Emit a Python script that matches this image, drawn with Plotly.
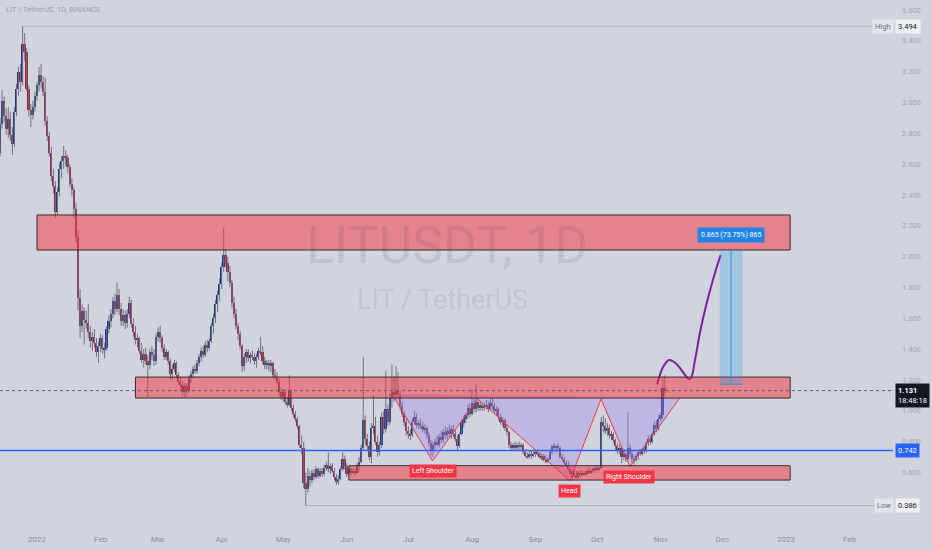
import pandas as pd
import plotly.graph_objects as go

# ---------------- data: LIT/USDT daily candles ----------------
FIRST_DAY = "2021-12-12"

open_prices = [
    2.74, 2.71, 2.67, 2.86, 3.01, 2.91, 2.83, 2.89, 2.79, 2.73, 2.94, 3.09, 3.20, 3.13, 3.38, 3.33, 3.09, 2.95, 2.92, 2.97,
    3.04, 3.11, 3.18, 3.13, 3.07, 2.88, 2.78, 2.67, 2.52, 2.46, 2.29, 2.42, 2.57, 2.62, 2.65, 2.64, 2.58, 2.47, 2.43, 2.31, 2.13, 1.73, 1.55, 1.65, 1.59, 1.57, 1.51, 1.45, 1.48, 1.44, 1.38,
    1.42, 1.47, 1.40, 1.41, 1.53, 1.58, 1.63, 1.71, 1.66, 1.75, 1.66, 1.58, 1.62, 1.57, 1.63, 1.70, 1.56, 1.51, 1.46, 1.47, 1.39, 1.33, 1.37, 1.32, 1.30, 1.38, 1.36, 1.32,
    1.48, 1.51, 1.47, 1.41, 1.35, 1.38, 1.32, 1.24, 1.27, 1.31, 1.23, 1.19, 1.17, 1.12, 1.16, 1.13, 1.21, 1.24, 1.27, 1.26, 1.31, 1.35, 1.39, 1.36, 1.43, 1.41, 1.45, 1.55, 1.60, 1.69, 1.75,
    1.82, 1.93, 2.01, 1.96, 1.90, 1.83, 1.70, 1.63, 1.55, 1.50, 1.42, 1.29, 1.35, 1.38, 1.34, 1.36, 1.35, 1.32, 1.35, 1.39, 1.38, 1.32, 1.30, 1.31, 1.29, 1.31, 1.23, 1.22, 1.19, 1.12,
    1.09, 1.12, 1.06, 1.04, 1.13, 1.02, 0.98, 0.95, 0.90, 0.78, 0.76, 0.53, 0.49, 0.58, 0.55, 0.60, 0.57, 0.62, 0.58, 0.61, 0.59, 0.63, 0.65, 0.62, 0.64, 0.61, 0.57, 0.54, 0.56, 0.62, 0.69,
    0.64, 0.59, 0.62, 0.60, 0.61, 0.60, 0.64, 0.67, 0.76, 0.94, 0.82, 0.77, 0.70, 0.89, 0.90, 0.80, 0.73, 0.78, 0.96, 0.88, 1.01, 0.93, 1.08, 1.12, 1.10, 1.13, 1.10, 1.03, 0.98, 0.93,
    0.87, 0.85, 0.84, 0.93, 0.96, 0.91, 0.92, 0.90, 0.88, 0.89, 0.84, 0.79, 0.74, 0.78, 0.80, 0.78, 0.83, 0.81, 0.86, 0.84, 0.87, 0.85, 0.88, 0.85, 0.82, 0.77, 0.85, 0.92, 0.95, 0.97, 1.02,
    0.98, 1.05, 1.01, 1.06, 1.02, 1.04, 1.02, 1.03, 1.04, 1.01, 1.05, 1.03, 1.00, 1.01, 0.96, 0.93, 0.94, 0.89, 0.86, 0.78, 0.76, 0.78, 0.76, 0.78, 0.77, 0.78, 0.73, 0.71, 0.70, 0.72, 0.71,
    0.72, 0.73, 0.72, 0.70, 0.71, 0.68, 0.67, 0.69, 0.73, 0.77, 0.76, 0.77, 0.76, 0.70, 0.69, 0.66, 0.65, 0.62, 0.59, 0.61, 0.58, 0.57, 0.60, 0.59, 0.60, 0.59, 0.61, 0.60, 0.61, 0.62,
    0.63, 0.62, 0.63, 0.93, 0.90, 0.87, 0.89, 0.84, 0.85, 0.81, 0.77, 0.74, 0.76, 0.70, 0.72, 0.69, 0.76, 0.72, 0.69, 0.68, 0.71, 0.73, 0.72, 0.75, 0.74, 0.79, 0.82, 0.80, 0.85, 0.91, 0.88,
    0.95, 0.97, 1.15,
]
high_prices = [
    2.84, 2.80, 2.90, 3.08, 3.04, 2.96, 2.97, 2.94, 2.84, 2.97, 3.12, 3.23, 3.25, 3.494, 3.45, 3.35, 3.11, 2.99, 3.01, 3.07,
    3.13, 3.23, 3.25, 3.17, 3.16, 2.91, 2.81, 2.71, 2.57, 2.49, 2.45, 2.61, 2.65, 2.72, 2.69, 2.66, 2.60, 2.51, 2.45, 2.35, 2.17, 1.79, 1.69, 1.67, 1.65, 1.69, 1.55, 1.51, 1.53, 1.47, 1.45,
    1.50, 1.49, 1.44, 1.55, 1.62, 1.66, 1.74, 1.76, 1.83, 1.79, 1.70, 1.66, 1.65, 1.66, 1.74, 1.72, 1.60, 1.55, 1.50, 1.48, 1.44, 1.40, 1.41, 1.36, 1.40, 1.42, 1.40, 1.50,
    1.54, 1.55, 1.49, 1.43, 1.40, 1.39, 1.34, 1.30, 1.33, 1.32, 1.25, 1.22, 1.19, 1.18, 1.18, 1.23, 1.26, 1.29, 1.30, 1.33, 1.37, 1.41, 1.42, 1.45, 1.46, 1.47, 1.57, 1.63, 1.72, 1.78, 1.86,
    1.96, 2.19, 2.05, 2.00, 1.94, 1.85, 1.74, 1.66, 1.57, 1.52, 1.43, 1.37, 1.40, 1.40, 1.38, 1.39, 1.37, 1.37, 1.41, 1.48, 1.42, 1.35, 1.33, 1.33, 1.33, 1.32, 1.27, 1.25, 1.21, 1.15,
    1.14, 1.14, 1.09, 1.23, 1.14, 1.04, 1.00, 0.96, 0.91, 0.84, 0.80, 0.60, 0.63, 0.61, 0.62, 0.62, 0.64, 0.63, 0.63, 0.63, 0.65, 0.67, 0.73, 0.66, 0.66, 0.63, 0.59, 0.58, 0.64, 0.73, 0.71,
    0.66, 0.64, 0.63, 0.63, 0.62, 0.66, 0.70, 0.78, 1.35, 0.97, 0.85, 0.80, 0.92, 1.10, 0.96, 0.84, 0.80, 0.99, 1.00, 1.26, 1.04, 1.11, 1.30, 1.22, 1.29, 1.25, 1.13, 1.06, 1.00, 0.95,
    0.90, 0.88, 0.95, 1.00, 0.98, 0.94, 0.95, 0.93, 0.91, 0.90, 0.86, 0.81, 0.80, 0.82, 0.84, 0.85, 0.87, 0.88, 0.90, 0.89, 0.91, 0.90, 0.91, 0.88, 0.84, 0.86, 0.94, 0.97, 0.99, 1.04, 1.05,
    1.14, 1.08, 1.17, 1.08, 1.06, 1.05, 1.05, 1.07, 1.06, 1.08, 1.08, 1.05, 1.03, 1.02, 0.98, 0.96, 0.95, 0.91, 0.87, 0.80, 0.79, 0.80, 0.79, 0.80, 0.79, 0.79, 0.75, 0.73, 0.74, 0.74, 0.74,
    0.74, 0.75, 0.73, 0.72, 0.72, 0.71, 0.70, 0.74, 0.78, 0.79, 0.78, 0.79, 0.77, 0.72, 0.70, 0.68, 0.67, 0.63, 0.62, 0.62, 0.61, 0.61, 0.62, 0.61, 0.61, 0.62, 0.63, 0.62, 0.63, 0.64,
    0.65, 0.64, 0.96, 0.97, 0.95, 0.92, 0.91, 0.87, 0.86, 0.82, 0.79, 0.78, 0.77, 0.74, 0.73, 0.99, 0.78, 0.74, 0.71, 0.72, 0.74, 0.75, 0.76, 0.77, 0.80, 0.84, 0.84, 0.86, 0.93, 0.94, 0.97,
    0.99, 1.21, 1.23,
]
low_prices = [
    2.64, 2.60, 2.65, 2.83, 2.87, 2.79, 2.77, 2.75, 2.66, 2.71, 2.91, 3.04, 3.07, 3.11, 3.27, 3.07, 2.91, 2.84, 2.89, 2.94,
    3.01, 3.07, 3.09, 3.04, 2.85, 2.75, 2.65, 2.49, 2.41, 2.25, 2.27, 2.39, 2.51, 2.57, 2.59, 2.54, 2.45, 2.39, 2.25, 2.09, 1.65, 1.47, 1.51, 1.43, 1.53, 1.47, 1.41, 1.39, 1.41, 1.35, 1.31,
    1.38, 1.37, 1.34, 1.39, 1.50, 1.54, 1.60, 1.62, 1.64, 1.62, 1.55, 1.55, 1.53, 1.54, 1.60, 1.54, 1.48, 1.43, 1.41, 1.37, 1.31, 1.28, 1.30, 1.09, 1.27, 1.33, 1.29, 1.30,
    1.45, 1.44, 1.38, 1.33, 1.33, 1.30, 1.20, 1.20, 1.25, 1.21, 1.17, 1.15, 1.10, 1.09, 1.10, 1.12, 1.18, 1.21, 1.24, 1.24, 1.29, 1.32, 1.34, 1.35, 1.38, 1.39, 1.44, 1.50, 1.57, 1.64, 1.71,
    1.79, 1.90, 1.93, 1.84, 1.80, 1.67, 1.60, 1.53, 1.46, 1.40, 1.25, 1.26, 1.31, 1.32, 1.31, 1.33, 1.30, 1.28, 1.33, 1.36, 1.30, 1.27, 1.27, 1.26, 1.25, 1.21, 1.20, 1.17, 1.10, 1.07,
    1.06, 1.04, 1.02, 1.03, 1.00, 0.96, 0.93, 0.88, 0.76, 0.72, 0.50, 0.386, 0.47, 0.51, 0.53, 0.55, 0.56, 0.56, 0.57, 0.57, 0.58, 0.61, 0.60, 0.59, 0.60, 0.55, 0.52, 0.52, 0.55, 0.61, 0.62,
    0.57, 0.58, 0.58, 0.59, 0.58, 0.59, 0.60, 0.66, 0.74, 0.78, 0.74, 0.68, 0.66, 0.85, 0.78, 0.70, 0.71, 0.76, 0.85, 0.86, 0.90, 0.91, 1.02, 1.06, 1.07, 1.08, 1.00, 0.96, 0.90, 0.84,
    0.82, 0.81, 0.83, 0.91, 0.89, 0.88, 0.88, 0.86, 0.85, 0.82, 0.77, 0.71, 0.70, 0.75, 0.77, 0.76, 0.79, 0.79, 0.82, 0.81, 0.83, 0.82, 0.83, 0.80, 0.74, 0.76, 0.84, 0.89, 0.92, 0.95, 0.96,
    0.97, 0.99, 0.99, 1.00, 1.00, 1.00, 1.00, 1.01, 0.99, 1.00, 1.01, 0.98, 0.97, 0.94, 0.91, 0.90, 0.87, 0.84, 0.76, 0.74, 0.74, 0.74, 0.74, 0.75, 0.75, 0.72, 0.70, 0.69, 0.69, 0.69, 0.70,
    0.70, 0.71, 0.69, 0.68, 0.67, 0.66, 0.66, 0.68, 0.72, 0.74, 0.73, 0.74, 0.69, 0.67, 0.65, 0.64, 0.61, 0.58, 0.55, 0.57, 0.56, 0.56, 0.57, 0.58, 0.58, 0.58, 0.59, 0.59, 0.60, 0.60,
    0.61, 0.61, 0.62, 0.86, 0.85, 0.84, 0.82, 0.81, 0.79, 0.75, 0.72, 0.72, 0.66, 0.68, 0.67, 0.68, 0.70, 0.66, 0.65, 0.67, 0.68, 0.71, 0.71, 0.72, 0.73, 0.77, 0.78, 0.79, 0.84, 0.86, 0.87,
    0.93, 0.95, 1.10,
]
close_prices = [
    2.71, 2.67, 2.86, 3.01, 2.91, 2.83, 2.89, 2.79, 2.73, 2.94, 3.09, 3.20, 3.13, 3.38, 3.33, 3.09, 2.95, 2.92, 2.97, 3.04,
    3.11, 3.18, 3.13, 3.07, 2.88, 2.78, 2.67, 2.52, 2.46, 2.29, 2.42, 2.57, 2.62, 2.65, 2.64, 2.58, 2.47, 2.43, 2.31, 2.13, 1.73, 1.55, 1.65, 1.59, 1.57, 1.51, 1.45, 1.48, 1.44, 1.38, 1.42,
    1.47, 1.40, 1.41, 1.53, 1.58, 1.63, 1.71, 1.66, 1.75, 1.66, 1.58, 1.62, 1.57, 1.63, 1.70, 1.56, 1.51, 1.46, 1.47, 1.39, 1.33, 1.37, 1.32, 1.30, 1.38, 1.36, 1.32, 1.48,
    1.51, 1.47, 1.41, 1.35, 1.38, 1.32, 1.24, 1.27, 1.31, 1.23, 1.19, 1.17, 1.12, 1.16, 1.13, 1.21, 1.24, 1.27, 1.26, 1.31, 1.35, 1.39, 1.36, 1.43, 1.41, 1.45, 1.55, 1.60, 1.69, 1.75, 1.82,
    1.93, 2.01, 1.96, 1.90, 1.83, 1.70, 1.63, 1.55, 1.50, 1.42, 1.29, 1.35, 1.38, 1.34, 1.36, 1.35, 1.32, 1.35, 1.39, 1.38, 1.32, 1.30, 1.31, 1.29, 1.31, 1.23, 1.22, 1.19, 1.12, 1.09,
    1.12, 1.06, 1.04, 1.13, 1.02, 0.98, 0.95, 0.90, 0.78, 0.76, 0.53, 0.49, 0.58, 0.55, 0.60, 0.57, 0.62, 0.58, 0.61, 0.59, 0.63, 0.65, 0.62, 0.64, 0.61, 0.57, 0.54, 0.56, 0.62, 0.69, 0.64,
    0.59, 0.62, 0.60, 0.61, 0.60, 0.64, 0.67, 0.76, 0.94, 0.82, 0.77, 0.70, 0.89, 0.90, 0.80, 0.73, 0.78, 0.96, 0.88, 1.01, 0.93, 1.08, 1.12, 1.10, 1.13, 1.10, 1.03, 0.98, 0.93, 0.87,
    0.85, 0.84, 0.93, 0.96, 0.91, 0.92, 0.90, 0.88, 0.89, 0.84, 0.79, 0.74, 0.78, 0.80, 0.78, 0.83, 0.81, 0.86, 0.84, 0.87, 0.85, 0.88, 0.85, 0.82, 0.77, 0.85, 0.92, 0.95, 0.97, 1.02, 0.98,
    1.05, 1.01, 1.06, 1.02, 1.04, 1.02, 1.03, 1.04, 1.01, 1.05, 1.03, 1.00, 1.01, 0.96, 0.93, 0.94, 0.89, 0.86, 0.78, 0.76, 0.78, 0.76, 0.78, 0.77, 0.78, 0.73, 0.71, 0.70, 0.72, 0.71, 0.72,
    0.73, 0.72, 0.70, 0.71, 0.68, 0.67, 0.69, 0.73, 0.77, 0.76, 0.77, 0.76, 0.70, 0.69, 0.66, 0.65, 0.62, 0.59, 0.61, 0.58, 0.57, 0.60, 0.59, 0.60, 0.59, 0.61, 0.60, 0.61, 0.62, 0.63,
    0.62, 0.63, 0.93, 0.90, 0.87, 0.89, 0.84, 0.85, 0.81, 0.77, 0.74, 0.76, 0.70, 0.72, 0.69, 0.76, 0.72, 0.69, 0.68, 0.71, 0.73, 0.72, 0.75, 0.74, 0.79, 0.82, 0.80, 0.85, 0.91, 0.88, 0.95,
    0.97, 1.15, 1.131,
]

# key levels / drawings (prices and dates)
HIGH_PRICE, HIGH_DATE = 3.494, "2021-12-25"
LOW_PRICE, LOW_DATE = 0.386, "2022-05-12"
LAST_PRICE, LAST_TIME = 1.131, "18:48:18"
BLUE_LEVEL = 0.742

zone_left = ["2022-01-01", "2022-02-18", "2022-06-02"]
zone_right = ["2023-01-03 02:00", "2023-01-03 02:00", "2023-01-03 02:00"]
zone_bottom = [2.043, 1.083, 0.551]
zone_top = [2.270, 1.219, 0.644]

hs_dates = ["2022-06-22 22:00", "2022-07-12 19:00", "2022-08-03 19:00", "2022-09-17 17:00",
            "2022-10-02 22:00", "2022-10-17 00:00", "2022-11-10 10:00"]
hs_prices = [1.110, 0.675, 1.077, 0.547, 1.077, 0.638, 1.085]
hs_label_text = ["Left Shoulder", "Head", "Right Shoulder"]
hs_label_dates = ["2022-07-12 19:00", "2022-09-17 17:00", "2022-10-16 12:00"]
hs_label_prices = [0.610, 0.482, 0.573]

proj_dates = ["2022-10-30 07:00", "2022-11-02 05:00", "2022-11-05 02:00", "2022-11-08 17:00",
              "2022-11-15 05:00", "2022-11-17 17:00", "2022-11-20 02:00", "2022-11-23 10:00",
              "2022-11-27 10:00", "2022-11-30 05:00"]
proj_prices = [1.172, 1.286, 1.330, 1.304, 1.204, 1.330, 1.505, 1.699, 1.894, 2.010]

range_start, range_end, range_mid = "2022-11-29 19:00", "2022-12-10 22:00", "2022-12-05 07:00"
range_low, range_high = 1.173, 2.038
range_text = "0.865 (73.75%) 865"

price_ticks = [0.6, 0.8, 1.0, 1.2, 1.4, 1.6, 1.8, 2.0, 2.2, 2.4, 2.6, 2.8, 3.0, 3.2, 3.4, 3.6]
month_ticks = ["2022-01-01", "2022-02-01", "2022-03-01", "2022-04-01", "2022-05-01", "2022-06-01",
               "2022-07-01", "2022-08-01", "2022-09-01", "2022-10-01", "2022-11-01", "2022-12-01",
               "2023-01-01", "2023-02-01"]
month_labels = ["2022", "Feb", "Mar", "Apr", "May", "Jun", "Jul", "Aug", "Sep", "Oct", "Nov", "Dec",
                "2023", "Feb"]

X_START, X_END = "2021-12-13 23:15", "2023-02-22 05:00"
Y_MIN, Y_MAX = 0.2595, 3.6642

# ---------------- styling ----------------
BG = "#d1d4dc"
UP, DOWN, WICK = "#1f3590", "#9a2444", "#6f727e"
FONT = "Roboto"

n = min(len(open_prices), len(high_prices), len(low_prices), len(close_prices))
dates = pd.date_range(FIRST_DAY, periods=n, freq="D")

wick_x, wick_y = [], []
for d, h, l in zip(dates, high_prices[:n], low_prices[:n]):
    wick_x += [d, d, None]
    wick_y += [l, h, None]

body_base = [min(o, c) for o, c in zip(open_prices[:n], close_prices[:n])]
body_len = [max(abs(c - o), 0.005) for o, c in zip(open_prices[:n], close_prices[:n])]
body_col = [UP if c >= o else DOWN for o, c in zip(open_prices[:n], close_prices[:n])]

fig = go.Figure()
fig.add_trace(go.Scatter(x=wick_x, y=wick_y, mode="lines",
                         line=dict(color=WICK, width=1), hoverinfo="skip", showlegend=False))
fig.add_trace(go.Bar(x=dates, y=body_len, base=body_base, marker_color=body_col,
                     marker_line_width=0, width=0.8 * 86400000, showlegend=False))

# head & shoulders pattern
fig.add_trace(go.Scatter(x=hs_dates + [hs_dates[0]], y=hs_prices + [hs_prices[0]], mode="lines",
                         fill="toself", fillcolor="rgba(150,120,235,0.32)",
                         line=dict(width=0), hoverinfo="skip", showlegend=False))
fig.add_trace(go.Scatter(x=hs_dates, y=hs_prices, mode="lines",
                         line=dict(color="#f23645", width=1), hoverinfo="skip", showlegend=False))
# projected path
fig.add_trace(go.Scatter(x=proj_dates, y=proj_prices, mode="lines",
                         line=dict(color="#7b1fa2", width=2, shape="spline", smoothing=1.0),
                         hoverinfo="skip", showlegend=False))

shapes = []
for x0, x1, y0, y1 in zip(zone_left, zone_right, zone_bottom, zone_top):
    shapes.append(dict(type="rect", xref="x", yref="y", x0=x0, x1=x1, y0=y0, y1=y1,
                       fillcolor="rgba(247,50,58,0.5)", line=dict(color="#3a2c31", width=1),
                       layer="above"))
# price range box
shapes.append(dict(type="rect", xref="x", yref="y", x0=range_start, x1=range_end,
                   y0=range_low, y1=range_high, fillcolor="rgba(33,150,243,0.25)",
                   line=dict(width=0), layer="above"))
shapes.append(dict(type="line", xref="x", yref="y", x0=range_mid, x1=range_mid,
                   y0=range_low, y1=range_high, line=dict(color="#2196f3", width=1), layer="above"))
shapes.append(dict(type="line", xref="x", yref="y", x0=range_start, x1=range_end,
                   y0=range_low, y1=range_low, line=dict(color="#2196f3", width=1), layer="above"))
# horizontal levels
shapes.append(dict(type="line", xref="x", yref="y", x0=X_START, x1=X_END, y0=BLUE_LEVEL, y1=BLUE_LEVEL,
                   line=dict(color="#2962ff", width=1.5), layer="above"))
shapes.append(dict(type="line", xref="x", yref="y", x0=X_START, x1=X_END, y0=LAST_PRICE, y1=LAST_PRICE,
                   line=dict(color="#5d606b", width=1, dash="dot"), layer="above"))
shapes.append(dict(type="line", xref="x", yref="y", x0=HIGH_DATE, x1=X_END, y0=HIGH_PRICE, y1=HIGH_PRICE,
                   line=dict(color="#aeb1ba", width=1), layer="above"))
shapes.append(dict(type="line", xref="x", yref="y", x0=LOW_DATE, x1=X_END, y0=LOW_PRICE, y1=LOW_PRICE,
                   line=dict(color="#aeb1ba", width=1), layer="above"))

ann = []
# watermark
ann.append(dict(text="LITUSDT, 1D", xref="paper", yref="paper", x=0.5, y=0.533, showarrow=False,
                font=dict(family=FONT, size=52, color="rgba(60,65,80,0.11)")))
ann.append(dict(text="LIT / TetherUS", xref="paper", yref="paper", x=0.496, y=0.429, showarrow=False,
                font=dict(family=FONT, size=27, color="rgba(60,65,80,0.11)")))
# title
ann.append(dict(text="LIT / TetherUS, 1D, BINANCE", xref="paper", yref="paper", x=0.004, y=0.981,
                xanchor="left", yanchor="middle", showarrow=False,
                font=dict(family=FONT, size=7.5, color="#9ea1aa")))
# pattern labels
for t, d, p in zip(hs_label_text, hs_label_dates, hs_label_prices):
    ann.append(dict(text=t, x=d, y=p, xref="x", yref="y", showarrow=False, bgcolor="#f23645",
                    borderpad=2, font=dict(family=FONT, size=7, color="white")))
# range label
ann.append(dict(text=range_text, x=range_mid, y=range_high, xref="x", yref="y", yanchor="bottom",
                yshift=8, showarrow=False, bgcolor="#2185e8", borderpad=3,
                font=dict(family=FONT, size=7, color="white")))
# price-scale labels
ann.append(dict(text="High", x=1, y=HIGH_PRICE, xref="paper", yref="y", xanchor="right", xshift=1,
                showarrow=False, bgcolor="#e3e5ea", borderpad=2,
                font=dict(family=FONT, size=7.5, color="#6a6d78")))
ann.append(dict(text=f"{HIGH_PRICE:.3f}", x=1, y=HIGH_PRICE, xref="paper", yref="y", xanchor="left",
                xshift=2, showarrow=False, bgcolor="#eef0f4", borderpad=2,
                font=dict(family=FONT, size=7.5, color="#131722")))
ann.append(dict(text="Low", x=1, y=LOW_PRICE, xref="paper", yref="y", xanchor="right", xshift=1,
                showarrow=False, bgcolor="#e3e5ea", borderpad=2,
                font=dict(family=FONT, size=7.5, color="#6a6d78")))
ann.append(dict(text=f"{LOW_PRICE:.3f}", x=1, y=LOW_PRICE, xref="paper", yref="y", xanchor="left",
                xshift=2, showarrow=False, bgcolor="#eef0f4", borderpad=2,
                font=dict(family=FONT, size=7.5, color="#131722")))
ann.append(dict(text=f"{BLUE_LEVEL:.3f}", x=1, y=BLUE_LEVEL, xref="paper", yref="y", xanchor="left",
                xshift=2, showarrow=False, bgcolor="#2962ff", borderpad=2,
                font=dict(family=FONT, size=7.5, color="white")))
ann.append(dict(text=f"<b>{LAST_PRICE:.3f}</b><br>{LAST_TIME}", x=1, y=LAST_PRICE, xref="paper",
                yref="y", xanchor="left", yanchor="middle", yshift=-5, xshift=2, align="left",
                showarrow=False, bgcolor="#131722", borderpad=2,
                font=dict(family=FONT, size=7.5, color="white")))

fig.update_layout(
    width=932, height=550,
    margin=dict(l=0, r=39, t=0, b=25),
    paper_bgcolor=BG, plot_bgcolor=BG,
    shapes=shapes, annotations=ann,
    showlegend=False, bargap=0,
    font=dict(family=FONT),
    xaxis=dict(type="date", range=[X_START, X_END], showgrid=False, zeroline=False, showline=False,
               tickvals=month_ticks, ticktext=month_labels, ticks="", ticklabelstandoff=8,
               tickfont=dict(family=FONT, size=8, color="#8c8f99"), fixedrange=True),
    yaxis=dict(range=[Y_MIN, Y_MAX], side="right", showgrid=False, zeroline=False, showline=False,
               tickvals=price_ticks, ticktext=[f"{v:.3f}" for v in price_ticks], ticks="",
               ticklabelstandoff=8, tickfont=dict(family=FONT, size=7.5, color="#a3a6af"),
               fixedrange=True),
)

fig.write_html(
    "out.html",
    config={"displayModeBar": False},
    post_script="document.body.style.margin='0px';document.body.style.overflow='hidden';"
                "document.body.style.background='" + BG + "';",
)
